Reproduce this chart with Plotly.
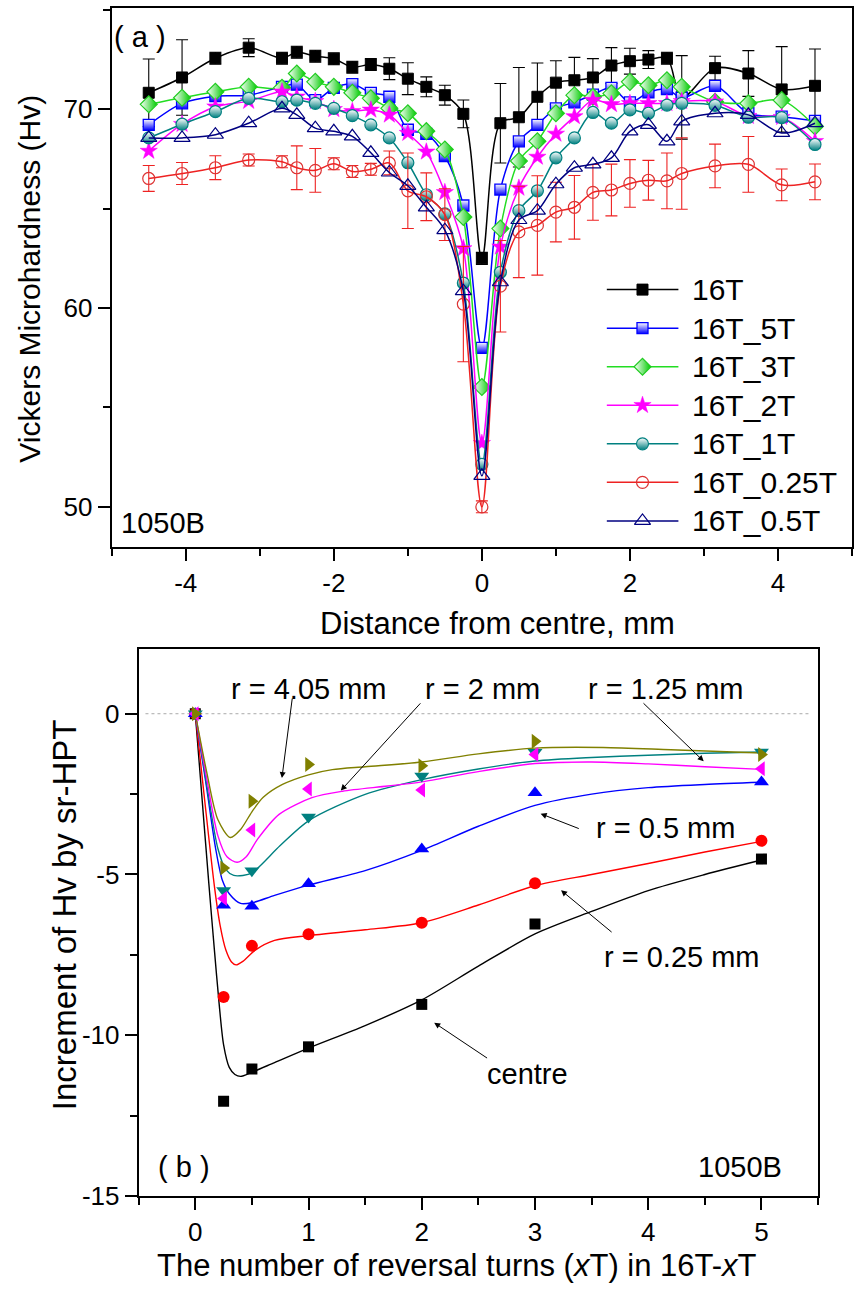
import plotly.graph_objects as go

W, H = 854, 1299

# ---------------- panel (a): Vickers microhardness profiles ----------------
dist_mm = [-4.5, -4.05, -3.6, -3.15, -2.7, -2.5, -2.25, -2.0, -1.75, -1.5, -1.25, -1.0,
           -0.75, -0.5, -0.25, 0.0, 0.25, 0.5, 0.75, 1.0, 1.25, 1.5, 1.75, 2.0, 2.25,
           2.5, 2.7, 3.15, 3.6, 4.05, 4.5]

hv_16T = [70.83, 71.6, 72.57, 73.1, 72.57, 72.87, 72.67, 72.54, 72.12, 72.25, 72.04, 71.54,
          71.13, 70.71, 69.77, 62.5, 69.3, 69.6, 70.63, 71.34, 71.46, 71.6, 72.2, 72.42, 72.5,
          72.57, 70.6, 72.07, 71.8, 71.0, 71.18]
err_16T = [1.7, 1.9, 0.3, 0.45, 0.3, 0.3, 0.3, 0.3, 0.3, 0.3, 0.55, 0.8,
           0.5, 0.5, 0.7, 0.3, 2.0, 2.5, 1.7, 1.1, 1.15, 0.95, 0.9, 0.65, 0.45,
           0.3, 2.1, 0.6, 1.15, 2.15, 1.85]
hv_16T_5T = [69.22, 70.3, 70.66, 70.71, 71.13, 71.24, 70.46, 71.08, 71.27, 70.83, 70.63, 68.97,
             68.76, 67.65, 65.16, 58.0, 65.96, 68.39, 69.22, 70.05, 70.35, 70.74, 71.08, 70.35, 70.85,
             71.01, 70.58, 71.18, 69.8, 69.63, 69.42]
hv_16T_3T = [70.25, 70.58, 70.88, 71.13, 71.08, 71.8, 71.38, 71.13, 70.83, 70.55, 70.05, 69.8,
             68.9, 67.98, 64.58, 56.03, 64.0, 67.4, 68.39, 69.8, 70.71, 70.63, 70.8, 71.38, 71.21,
             71.46, 71.13, 70.38, 70.3, 70.46, 69.14]
hv_16T_2T = [67.9, 69.25, 70.13, 70.41, 70.88, 70.63, 70.4, 70.0, 69.9, 69.97, 69.72, 68.8,
             67.86, 65.82, 63.0, 53.2, 63.08, 66.04, 67.6, 68.76, 69.64, 70.46, 70.25, 70.3, 70.3,
             70.3, 70.4, 70.38, 69.65, 69.6, 68.39]
hv_16T_1T = [68.56, 69.25, 69.88, 70.55, 70.38, 70.46, 70.3, 70.05, 69.68, 69.22, 68.56, 67.31,
             65.7, 64.74, 61.26, 52.14, 61.8, 64.9, 65.9, 67.56, 68.56, 69.84, 69.3, 69.97, 69.8,
             70.21, 70.3, 70.2, 69.6, 69.58, 68.23]
hv_16T_025T = [66.52, 66.77, 67.06, 67.45, 67.36, 67.06, 66.93, 67.26, 66.87, 66.98, 67.3, 65.9,
               65.6, 64.7, 60.2, 50.0, 61.1, 63.83, 64.16, 64.83, 65.07, 65.82, 65.94, 66.27, 66.43,
               66.4, 66.77, 67.15, 67.23, 66.2, 66.35]
err_16T_025T = [0.65, 0.55, 0.6, 0.3, 0.3, 1.1, 1.1, 0.3, 0.3, 0.3, 0.6, 1.9,
                1.2, 1.3, 2.9, 0.3, 2.3, 2.3, 2.5, 1.5, 1.6, 1.4, 1.3, 1.2, 1.0,
                1.4, 1.8, 1.1, 1.4, 0.8, 0.9]
hv_16T_05T = [68.56, 68.56, 68.72, 69.3, 70.05, 69.72, 69.05, 68.89, 68.64, 67.81, 66.82, 66.15,
              65.07, 63.92, 60.85, 51.56, 61.3, 64.43, 64.9, 66.23, 67.06, 67.23, 67.56, 68.89, 69.22,
              68.39, 69.39, 69.8, 69.72, 68.81, 69.3]

series_names = ["16T", "16T_5T", "16T_3T", "16T_2T", "16T_1T", "16T_0.25T", "16T_0.5T"]

# ---------------- panel (b): hardness increment vs reversal turns ----------------
turns = [0, 0.25, 0.5, 1, 2, 3, 5]
inc_centre = [0, -12.05, -11.05, -10.36, -9.04, -6.54, -4.52]
inc_r025 = [0, -8.81, -7.22, -6.86, -6.50, -5.27, -3.95]
inc_r05 = [0, -5.96, -5.99, -5.29, -4.21, -2.46, -2.12]
inc_r125 = [0, -5.5, -4.88, -3.21, -1.94, -1.2, -1.19]
inc_r2 = [0, -5.75, -3.62, -2.34, -2.37, -1.27, -1.71]
inc_r405 = [0, -4.8, -2.72, -1.58, -1.62, -0.86, -1.27]

# fitted curves
fit_centre_x = [0, 0.06, 0.12, 0.17, 0.21, 0.25, 0.3, 0.35, 0.4, 0.5, 0.7, 1.0, 1.5, 2.0, 2.5, 3.0, 3.5, 4.0, 4.5, 5.0]
fit_centre_y = [0, -2.65, -5.3, -7.4, -9.0, -10.3, -11.0, -11.22, -11.28, -11.15, -10.85, -10.4, -9.7, -8.9, -7.85, -6.85, -6.15, -5.5, -5.0, -4.55]
fit_r025_x = [0, 0.08, 0.17, 0.22, 0.27, 0.32, 0.36, 0.42, 0.53, 0.7, 1.0, 1.5, 2.0, 2.5, 3.0, 3.5, 4.0, 4.5, 5.0]
fit_r025_y = [0, -2.6, -5.4, -6.6, -7.35, -7.72, -7.81, -7.7, -7.35, -7.05, -6.9, -6.72, -6.5, -5.95, -5.35, -5.0, -4.66, -4.3, -3.97]
fit_r05_x = [0, 0.1, 0.18, 0.24, 0.3, 0.4, 0.5, 0.7, 1.0, 1.5, 2.0, 2.5, 3.0, 3.5, 4.0, 4.5, 5.0]
fit_r05_y = [0, -2.3, -4.2, -5.19, -5.6, -5.9, -5.88, -5.65, -5.33, -4.88, -4.25, -3.5, -2.85, -2.5, -2.3, -2.2, -2.13]
fit_r125_x = [0, 0.1, 0.2, 0.27, 0.34, 0.42, 0.5, 0.75, 1.0, 1.5, 2.0, 2.5, 3.0, 3.5, 4.0, 4.5, 5.0]
fit_r125_y = [0, -2.2, -4.2, -4.85, -5.03, -5.03, -4.95, -4.1, -3.33, -2.51, -2.05, -1.72, -1.47, -1.36, -1.29, -1.23, -1.19]
fit_r2_x = [0, 0.1, 0.2, 0.28, 0.37, 0.45, 0.55, 0.74, 1.03, 1.3, 1.7, 2.0, 2.5, 3.0, 3.5, 4.0, 4.5, 5.0]
fit_r2_y = [0, -2.0, -3.8, -4.45, -4.62, -4.45, -3.9, -3.13, -2.61, -2.41, -2.25, -2.12, -1.8, -1.55, -1.5, -1.56, -1.65, -1.73]
fit_r405_x = [0, 0.1, 0.2, 0.31, 0.4, 0.5, 0.6, 0.77, 1.0, 1.21, 1.5, 2.0, 2.5, 3.0, 3.6, 4.2, 5.0]
fit_r405_y = [0, -1.8, -3.3, -3.85, -3.6, -3.05, -2.6, -2.2, -1.9, -1.74, -1.65, -1.5, -1.25, -1.07, -1.05, -1.12, -1.22]

# tick labels
a_xticks = [-4, -2, 0, 2, 4]
a_xticklabels = ["-4", "-2", "0", "2", "4"]
a_yticks = [50, 60, 70]
a_yticklabels = ["50", "60", "70"]
b_xticks = [0, 1, 2, 3, 4, 5]
b_xticklabels = ["0", "1", "2", "3", "4", "5"]
b_yticks = [-15, -10, -5, 0]
b_yticklabels = ["-15", "-10", "-5", "0"]

FONT = "Liberation Sans, Arial, Helvetica, sans-serif"
TXT = 29
TICK = 26

# ---------------- styles ----------------
styles_a = {
    "16T": dict(line="#000000", marker=dict(symbol="square", size=11, color="#000000",
                                            line=dict(color="#000000", width=1))),
    "16T_5T": dict(line="#0000ff", marker=dict(symbol="square", size=11, color="#ffffff",
                                               gradient=dict(type="vertical", color="#0000ff"),
                                               line=dict(color="#0000ff", width=1.3))),
    "16T_3T": dict(line="#22dd22", marker=dict(symbol="diamond", size=13, color="#ffffff",
                                               gradient=dict(type="horizontal", color="#00cc00"),
                                               line=dict(color="#22cc22", width=1.2))),
    "16T_2T": dict(line="#ff00ff", marker=dict(symbol="star", size=13, color="#ff00ff",
                                               line=dict(color="#ff00ff", width=0.5))),
    "16T_1T": dict(line="#008080", marker=dict(symbol="circle", size=12, color="#ffffff",
                                               gradient=dict(type="vertical", color="#008080"),
                                               line=dict(color="#008080", width=1.2))),
    "16T_0.25T": dict(line="#ee2222", marker=dict(symbol="circle-open", size=12, color="#dd3333",
                                                  line=dict(color="#dd3333", width=1.2))),
    "16T_0.5T": dict(line="#000080", marker=dict(symbol="triangle-up-open", size=14, color="#000080",
                                                 line=dict(color="#000080", width=1.2))),
}
values_a = {
    "16T": hv_16T, "16T_5T": hv_16T_5T, "16T_3T": hv_16T_3T, "16T_2T": hv_16T_2T,
    "16T_1T": hv_16T_1T, "16T_0.25T": hv_16T_025T, "16T_0.5T": hv_16T_05T,
}
errors_a = {"16T": err_16T, "16T_0.25T": err_16T_025T}

fig = go.Figure()

for name in series_names:
    st = styles_a[name]
    err = errors_a.get(name)
    fig.add_trace(go.Scatter(
        x=dist_mm, y=values_a[name], mode="lines+markers",
        line=dict(color=st["line"], width=1.5, shape="spline", smoothing=0.9),
        marker=st["marker"],
        error_y=(dict(type="data", array=err, visible=True, color=st["line"],
                      thickness=1.1, width=6) if err else None),
        xaxis="x", yaxis="y", showlegend=False, cliponaxis=True,
    ))

# custom legend on helper axes (x3/y3)
for i, name in enumerate(series_names):
    st = styles_a[name]
    fig.add_trace(go.Scatter(
        x=[0, 72], y=[i, i], mode="lines", line=dict(color=st["line"], width=1.5),
        xaxis="x3", yaxis="y3", showlegend=False, hoverinfo="skip"))
    fig.add_trace(go.Scatter(
        x=[36], y=[i], mode="markers", marker=st["marker"],
        xaxis="x3", yaxis="y3", showlegend=False, hoverinfo="skip"))
    fig.add_annotation(x=84, y=i, xref="x3", yref="y3", text=name, showarrow=False,
                       xanchor="left", yanchor="middle",
                       font=dict(family=FONT, size=30, color="#000"))

# ---------------- panel (b) ----------------
b_series = [
    ("centre", inc_centre, fit_centre_x, fit_centre_y, "#000000", "square", 11),
    ("r025", inc_r025, fit_r025_x, fit_r025_y, "#ff0000", "circle", 12),
    ("r05", inc_r05, fit_r05_x, fit_r05_y, "#0000ff", "triangle-up", 13),
    ("r125", inc_r125, fit_r125_x, fit_r125_y, "#008080", "triangle-down", 13),
    ("r2", inc_r2, fit_r2_x, fit_r2_y, "#ff00ff", "triangle-left", 13),
    ("r405", inc_r405, fit_r405_x, fit_r405_y, "#808000", "triangle-right", 13),
]
for nm, vals, fx, fy, col, sym, sz in b_series:
    fig.add_trace(go.Scatter(x=fx, y=fy, mode="lines",
                             line=dict(color=col, width=1.4, shape="spline", smoothing=0.8),
                             xaxis="x2", yaxis="y2", showlegend=False))
for nm, vals, fx, fy, col, sym, sz in b_series:
    fig.add_trace(go.Scatter(x=turns, y=vals, mode="markers",
                             marker=dict(symbol=sym, size=sz, color=col, line=dict(width=0)),
                             xaxis="x2", yaxis="y2", showlegend=False))

# dotted zero line
fig.add_shape(type="line", xref="x2 domain", yref="y2", x0=0.01, x1=0.99, y0=0, y1=0,
              line=dict(color="#aaaaaa", width=1, dash="dot"), layer="below")

def px_x(p):
    return p / W

def px_y(p):
    return 1 - p / H

common_axis = dict(showline=True, linecolor="#000", linewidth=2, mirror=True,
                   ticks="outside", tickcolor="#000", tickwidth=1.5, ticklen=12,
                   showgrid=False, zeroline=False,
                   tickfont=dict(family=FONT, size=TICK, color="#000"))

fig.update_layout(
    width=W, height=H, margin=dict(l=0, r=0, t=0, b=0),
    paper_bgcolor="white", plot_bgcolor="white",
    xaxis=dict(domain=[px_x(112), 1.0], range=[-5, 5], anchor="y",
               tickvals=a_xticks, ticktext=a_xticklabels,
               minor=dict(dtick=1, tick0=0, ticks="outside", ticklen=7, tickwidth=1.5, tickcolor="#000"),
               **common_axis),
    yaxis=dict(domain=[px_y(553), px_y(8)], range=[48, 75.1], anchor="x",
               tickvals=a_yticks, ticktext=a_yticklabels,
               minor=dict(dtick=5, tick0=0, ticks="outside", ticklen=7, tickwidth=1.5, tickcolor="#000"),
               **common_axis),
    xaxis2=dict(domain=[px_x(139), px_x(820)], range=[-0.5, 5.5], anchor="y2",
                tickvals=b_xticks, ticktext=b_xticklabels,
                minor=dict(dtick=0.5, tick0=0, ticks="outside", ticklen=7, tickwidth=1.5, tickcolor="#000"),
                **common_axis),
    yaxis2=dict(domain=[px_y(1210), px_y(657)], range=[-15, 2], anchor="x2",
                tickvals=b_yticks, ticktext=b_yticklabels,
                minor=dict(dtick=2.5, tick0=0, ticks="outside", ticklen=7, tickwidth=1.5, tickcolor="#000"),
                **common_axis),
    xaxis3=dict(domain=[px_x(608), 1.0], range=[0, 246], visible=False, anchor="y3", fixedrange=True),
    yaxis3=dict(domain=[px_y(546.5), px_y(273.5)], range=[6.5, -0.5], visible=False, anchor="x3", fixedrange=True),
)

def ann(text, x, y, size=TXT, angle=0, xanchor="center"):
    fig.add_annotation(x=px_x(x), y=px_y(y), xref="paper", yref="paper", text=text,
                       showarrow=False, textangle=angle, xanchor=xanchor, yanchor="middle",
                       font=dict(family=FONT, size=size, color="#000"))

# axis titles
ann("Vickers Microhardness (Hv)", 30, 282, size=30, angle=-90)
ann("Distance from centre, mm", 499, 631, size=31)
ann("Increment of Hv by sr-HPT", 64, 925, size=33, angle=-90)
ann("The number of reversal turns (<i>x</i>T) in 16T-<i>x</i>T", 458, 1280, size=31)

# panel labels
ann("( a )", 140, 37)
ann("1050B", 163, 529)
ann("( b )", 184, 1181)
ann("1050B", 742, 1181)

# curve labels with arrows (panel b)
def b_label(text, x, y):
    fig.add_annotation(x=x, y=y, xref="x2", yref="y2", text=text, showarrow=False,
                       font=dict(family=FONT, size=TXT, color="#000"))

def b_arrow(x_head, y_head, x_tail, y_tail):
    fig.add_annotation(x=x_head, y=y_head, ax=x_tail, ay=y_tail, xref="x2", yref="y2",
                       axref="x2", ayref="y2", text="", showarrow=True, arrowhead=2,
                       arrowsize=1.2, arrowwidth=1, arrowcolor="#000")

b_label("r = 4.05 mm", 1.0, 0.77)
b_label("r = 2 mm", 2.54, 0.77)
b_label("r = 1.25 mm", 4.16, 0.77)
b_label("r = 0.5 mm", 4.15, -3.56)
b_label("r = 0.25 mm", 4.30, -7.57)
b_label("centre", 2.93, -11.21)

b_arrow(0.765, -2.0, 0.858, 0.52)
b_arrow(1.285, -2.39, 2.0, 0.37)
b_arrow(4.49, -1.48, 3.945, 0.37)
b_arrow(3.05, -3.11, 3.40, -3.59)
b_arrow(3.23, -5.49, 3.69, -6.83)
b_arrow(2.11, -9.61, 2.59, -10.74)

fig.write_html("out.html")
